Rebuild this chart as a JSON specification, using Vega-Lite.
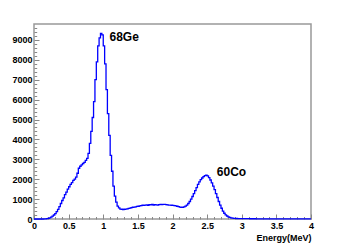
{
  "$schema": "https://vega.github.io/schema/vega-lite/v6.json",
  "width": 277,
  "height": 195,
  "autosize": "none",
  "padding": {"left": 34, "top": 24, "right": 35, "bottom": 26},
  "background": "white",
  "config": {"view": {"stroke": "#999999", "strokeWidth": 1.5}, "font": "Liberation Sans"},
  "datasets": {
    "hist": [
      {"E": 0.00, "c": 0}, {"E": 0.02, "c": 0}, {"E": 0.04, "c": 0}, {"E": 0.06, "c": 0},
      {"E": 0.08, "c": 0}, {"E": 0.10, "c": 0}, {"E": 0.12, "c": 0}, {"E": 0.14, "c": 5},
      {"E": 0.16, "c": 10}, {"E": 0.18, "c": 20}, {"E": 0.20, "c": 35}, {"E": 0.22, "c": 60},
      {"E": 0.24, "c": 90}, {"E": 0.26, "c": 140}, {"E": 0.28, "c": 200}, {"E": 0.30, "c": 270},
      {"E": 0.32, "c": 370}, {"E": 0.34, "c": 480}, {"E": 0.36, "c": 620}, {"E": 0.38, "c": 780},
      {"E": 0.40, "c": 930}, {"E": 0.42, "c": 1060}, {"E": 0.44, "c": 1220}, {"E": 0.46, "c": 1350},
      {"E": 0.48, "c": 1500}, {"E": 0.50, "c": 1620}, {"E": 0.52, "c": 1740}, {"E": 0.54, "c": 1830},
      {"E": 0.56, "c": 1940}, {"E": 0.58, "c": 2000}, {"E": 0.60, "c": 2100}, {"E": 0.62, "c": 2300},
      {"E": 0.64, "c": 2550}, {"E": 0.66, "c": 2650}, {"E": 0.68, "c": 2720}, {"E": 0.70, "c": 2790},
      {"E": 0.72, "c": 2850}, {"E": 0.74, "c": 2950}, {"E": 0.76, "c": 3050}, {"E": 0.78, "c": 3300},
      {"E": 0.80, "c": 3800}, {"E": 0.82, "c": 4400}, {"E": 0.84, "c": 5100}, {"E": 0.86, "c": 5900},
      {"E": 0.88, "c": 7000}, {"E": 0.90, "c": 7900}, {"E": 0.92, "c": 8700}, {"E": 0.94, "c": 9100},
      {"E": 0.96, "c": 9330}, {"E": 0.98, "c": 9250}, {"E": 1.00, "c": 8700}, {"E": 1.02, "c": 7800},
      {"E": 1.04, "c": 6500}, {"E": 1.06, "c": 5300}, {"E": 1.08, "c": 4200}, {"E": 1.10, "c": 3200},
      {"E": 1.12, "c": 2400}, {"E": 1.14, "c": 1650}, {"E": 1.16, "c": 1150}, {"E": 1.18, "c": 850},
      {"E": 1.20, "c": 650}, {"E": 1.22, "c": 560}, {"E": 1.24, "c": 500}, {"E": 1.26, "c": 490},
      {"E": 1.28, "c": 470}, {"E": 1.30, "c": 490}, {"E": 1.32, "c": 500}, {"E": 1.34, "c": 510},
      {"E": 1.36, "c": 530}, {"E": 1.38, "c": 550}, {"E": 1.40, "c": 570}, {"E": 1.42, "c": 590},
      {"E": 1.44, "c": 600}, {"E": 1.46, "c": 610}, {"E": 1.48, "c": 630}, {"E": 1.50, "c": 640},
      {"E": 1.52, "c": 660}, {"E": 1.54, "c": 670}, {"E": 1.56, "c": 690}, {"E": 1.58, "c": 680},
      {"E": 1.60, "c": 700}, {"E": 1.62, "c": 710}, {"E": 1.64, "c": 690}, {"E": 1.66, "c": 720},
      {"E": 1.68, "c": 710}, {"E": 1.70, "c": 730}, {"E": 1.72, "c": 700}, {"E": 1.74, "c": 720},
      {"E": 1.76, "c": 710}, {"E": 1.78, "c": 700}, {"E": 1.80, "c": 720}, {"E": 1.82, "c": 730},
      {"E": 1.84, "c": 720}, {"E": 1.86, "c": 740}, {"E": 1.88, "c": 730}, {"E": 1.90, "c": 720},
      {"E": 1.92, "c": 710}, {"E": 1.94, "c": 700}, {"E": 1.96, "c": 700}, {"E": 1.98, "c": 690},
      {"E": 2.00, "c": 680}, {"E": 2.02, "c": 670}, {"E": 2.04, "c": 660}, {"E": 2.06, "c": 640},
      {"E": 2.08, "c": 620}, {"E": 2.10, "c": 600}, {"E": 2.12, "c": 590}, {"E": 2.14, "c": 580},
      {"E": 2.16, "c": 610}, {"E": 2.18, "c": 650}, {"E": 2.20, "c": 700}, {"E": 2.22, "c": 780},
      {"E": 2.24, "c": 880}, {"E": 2.26, "c": 1000}, {"E": 2.28, "c": 1130}, {"E": 2.30, "c": 1280},
      {"E": 2.32, "c": 1430}, {"E": 2.34, "c": 1580}, {"E": 2.36, "c": 1740}, {"E": 2.38, "c": 1870},
      {"E": 2.40, "c": 1980}, {"E": 2.42, "c": 2060}, {"E": 2.44, "c": 2130}, {"E": 2.46, "c": 2180},
      {"E": 2.48, "c": 2210}, {"E": 2.50, "c": 2170}, {"E": 2.52, "c": 2080}, {"E": 2.54, "c": 1960},
      {"E": 2.56, "c": 1820}, {"E": 2.58, "c": 1650}, {"E": 2.60, "c": 1480}, {"E": 2.62, "c": 1280},
      {"E": 2.64, "c": 1080}, {"E": 2.66, "c": 880}, {"E": 2.68, "c": 700}, {"E": 2.70, "c": 540},
      {"E": 2.72, "c": 400}, {"E": 2.74, "c": 290}, {"E": 2.76, "c": 210}, {"E": 2.78, "c": 150},
      {"E": 2.80, "c": 110}, {"E": 2.82, "c": 80}, {"E": 2.84, "c": 60}, {"E": 2.86, "c": 45},
      {"E": 2.88, "c": 35}, {"E": 2.90, "c": 30}, {"E": 2.92, "c": 25}, {"E": 2.94, "c": 22},
      {"E": 2.96, "c": 20}, {"E": 2.98, "c": 19}, {"E": 3.00, "c": 18}, {"E": 3.02, "c": 17},
      {"E": 3.04, "c": 16}, {"E": 3.06, "c": 15}, {"E": 3.08, "c": 15}, {"E": 3.10, "c": 14},
      {"E": 3.12, "c": 13}, {"E": 3.14, "c": 13}, {"E": 3.16, "c": 12}, {"E": 3.18, "c": 12},
      {"E": 3.20, "c": 11}, {"E": 3.22, "c": 11}, {"E": 3.24, "c": 10}, {"E": 3.26, "c": 10},
      {"E": 3.28, "c": 10}, {"E": 3.30, "c": 9}, {"E": 3.32, "c": 9}, {"E": 3.34, "c": 9},
      {"E": 3.36, "c": 8}, {"E": 3.38, "c": 8}, {"E": 3.40, "c": 8}, {"E": 3.42, "c": 8},
      {"E": 3.44, "c": 7}, {"E": 3.46, "c": 7}, {"E": 3.48, "c": 7}, {"E": 3.50, "c": 7},
      {"E": 3.52, "c": 6}, {"E": 3.54, "c": 6}, {"E": 3.56, "c": 6}, {"E": 3.58, "c": 6},
      {"E": 3.60, "c": 6}, {"E": 3.62, "c": 5}, {"E": 3.64, "c": 5}, {"E": 3.66, "c": 5},
      {"E": 3.68, "c": 5}, {"E": 3.70, "c": 5}, {"E": 3.72, "c": 5}, {"E": 3.74, "c": 4},
      {"E": 3.76, "c": 4}, {"E": 3.78, "c": 4}, {"E": 3.80, "c": 4}, {"E": 3.82, "c": 4},
      {"E": 3.84, "c": 4}, {"E": 3.86, "c": 3}, {"E": 3.88, "c": 3}, {"E": 3.90, "c": 3},
      {"E": 3.92, "c": 3}, {"E": 3.94, "c": 3}, {"E": 3.96, "c": 3}, {"E": 3.98, "c": 3},
      {"E": 4.00, "c": 3}
    ],
    "labels": [
      {"E": 1.09, "v": 9125, "label": "68Ge"},
      {"E": 2.64, "v": 2378, "label": "60Co"}
    ]
  },
  "layer": [
    {
      "data": {"name": "hist"},
      "mark": {"type": "line", "interpolate": "step-after", "color": "#0000ff", "strokeWidth": 1.3},
      "encoding": {
        "x": {
          "field": "E", "type": "quantitative",
          "scale": {"domain": [0, 4], "nice": false, "zero": false},
          "axis": {
            "orient": "bottom", "values": [0, 0.5, 1, 1.5, 2, 2.5, 3, 3.5, 4], "format": ".1~f",
            "tickSize": -5, "labelPadding": 7, "tickColor": "#888888", "domain": false, "grid": false,
            "labelFont": "Liberation Sans", "labelFontWeight": "bold", "labelFontSize": 9, "labelColor": "black",
            "labelFlush": false, "labelOverlap": false,
            "title": "Energy(MeV)", "titleAnchor": "end", "titleFont": "Liberation Sans", "titleFontSize": 9,
            "titleFontWeight": "bold", "titleColor": "black", "titlePadding": 3
          }
        },
        "y": {
          "field": "c", "type": "quantitative",
          "scale": {"domain": [0, 9800], "nice": false},
          "axis": {
            "orient": "left", "values": [0, 1000, 2000, 3000, 4000, 5000, 6000, 7000, 8000, 9000], "format": "d",
            "tickSize": -5, "labelPadding": 7, "tickColor": "#888888", "domain": false, "grid": false,
            "labelFont": "Liberation Sans", "labelFontWeight": "bold", "labelFontSize": 9, "labelColor": "black",
            "labelFlush": false, "labelOverlap": false, "title": null
          }
        }
      }
    },
    {
      "data": {"name": "hist"},
      "mark": {"type": "line", "opacity": 0},
      "encoding": {
        "x": {
          "field": "E", "type": "quantitative",
          "axis": {
            "orient": "bottom",
            "values": [0.1, 0.2, 0.3, 0.4, 0.6, 0.7, 0.8, 0.9, 1.1, 1.2, 1.3, 1.4, 1.6, 1.7, 1.8, 1.9, 2.1, 2.2, 2.3, 2.4, 2.6, 2.7, 2.8, 2.9, 3.1, 3.2, 3.3, 3.4, 3.6, 3.7, 3.8, 3.9],
            "tickSize": -2.5, "labels": false, "domain": false, "grid": false, "tickColor": "#888888", "title": null
          }
        },
        "y": {
          "field": "c", "type": "quantitative",
          "axis": {
            "orient": "left",
            "values": [200, 400, 600, 800, 1200, 1400, 1600, 1800, 2200, 2400, 2600, 2800, 3200, 3400, 3600, 3800, 4200, 4400, 4600, 4800, 5200, 5400, 5600, 5800, 6200, 6400, 6600, 6800, 7200, 7400, 7600, 7800, 8200, 8400, 8600, 8800, 9200, 9400, 9600],
            "tickSize": -2.7, "labels": false, "domain": false, "grid": false, "tickColor": "#888888", "title": null
          }
        }
      }
    },
    {
      "data": {"name": "labels"},
      "mark": {"type": "text", "align": "left", "baseline": "middle", "font": "Liberation Sans", "fontWeight": "bold", "fontSize": 12, "color": "black"},
      "encoding": {
        "x": {"field": "E", "type": "quantitative", "axis": null},
        "y": {"field": "v", "type": "quantitative", "axis": null},
        "text": {"field": "label"}
      }
    }
  ],
  "resolve": {"axis": {"x": "independent", "y": "independent"}}
}
